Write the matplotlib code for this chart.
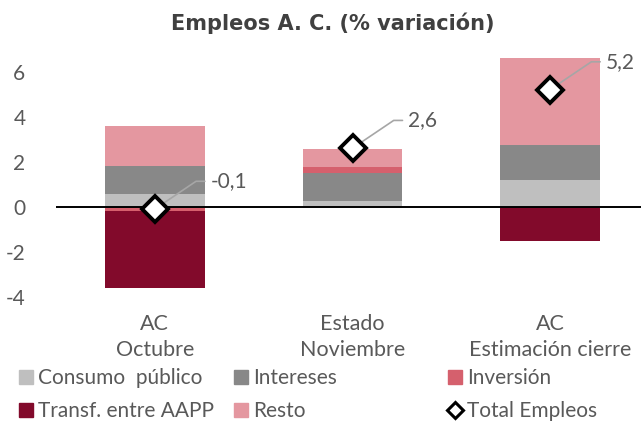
import matplotlib
matplotlib.use("Agg")
import matplotlib.pyplot as plt
from matplotlib.lines import Line2D
import numpy as np

categories = ["AC\nOctubre", "Estado\nNoviembre", "AC\nEstimación cierre"]
consumo = [0.55, 0.28, 1.19]
intereses = [1.27, 1.20, 1.54]
inversion = [-0.20, 0.30, 0.0]
transf = [-3.38, 0.0, -1.53]
resto = [1.75, 0.79, 3.87]
total = [-0.1, 2.6, 5.2]
total_labels = ["-0,1", "2,6", "5,2"]
yticks = [-4, -2, 0, 2, 4, 6]

series = [
    ("Consumo  público", consumo, "#BFBFBF"),
    ("Intereses", intereses, "#888888"),
    ("Inversión", inversion, "#D5606D"),
    ("Transf. entre AAPP", transf, "#820A2B"),
    ("Resto", resto, "#E497A0"),
]

plt.rcParams['font.family'] = ['Lato', 'DejaVu Sans']
txt = "#595959"

fig = plt.figure(figsize=(6.41, 4.26), dpi=100)
ax = fig.add_axes([56/641, 1-297/426, 593/641, (297-49)/426])

x = np.arange(len(categories))
pos_base = np.zeros(len(categories))
neg_base = np.zeros(len(categories))
for name, vals, col in series:
    v = np.array(vals, dtype=float)
    bottoms = np.where(v >= 0, pos_base, neg_base)
    ax.bar(x, v, width=0.505, bottom=bottoms, color=col, linewidth=0)
    pos_base = pos_base + np.where(v > 0, v, 0)
    neg_base = neg_base + np.where(v < 0, v, 0)

ax.axhline(0, color="black", lw=1.4, zorder=3)
ax.plot(x, total, linestyle="none", marker="D", ms=13, mfc="white",
        mec="black", mew=2.8, zorder=5)

for xi, t, lab in zip(x, total, total_labels):
    ax.annotate(lab, xy=(xi, t), xytext=(40, 20), textcoords="offset points",
                ha="left", va="center", fontsize=15, color=txt,
                arrowprops=dict(arrowstyle="-", color="#A6A6A6", lw=1.2,
                                shrinkA=2, shrinkB=0,
                                connectionstyle="angle,angleA=0,angleB=34,rad=0"),
                zorder=4)

ax.set_xlim(-0.5, 2.5)
ax.set_ylim(-4, 7)
ax.set_yticks(yticks)
ax.set_yticklabels([str(t) for t in yticks])
ax.set_xticks(x)
ax.set_xticklabels(categories, fontsize=15.5, color=txt, linespacing=1.4)
ax.tick_params(axis="x", length=0, pad=12)
ax.tick_params(axis="y", length=0, pad=22, labelsize=15, labelcolor=txt)
for s in ax.spines.values():
    s.set_visible(False)

fig.text(333/641, 1-23/426, "Empleos A. C. (% variación)", ha="center",
         va="center", fontsize=15, fontweight="bold", color="#404040",
         family=["DejaVu Sans"])

def h(col):
    return Line2D([], [], linestyle="none", marker="s", ms=10, mfc=col, mec=col)

leg_cols = [
    ([h("#BFBFBF"), h("#820A2B")], ["Consumo  público", "Transf. entre AAPP"], 19),
    ([h("#888888"), h("#E497A0")], ["Intereses", "Resto"], 234),
    ([h("#D5606D"), Line2D([], [], linestyle="none", marker="D", ms=8, mfc="white", mec="black", mew=2.2)],
     ["Inversión", "Total Empleos"], 448),
]
for hs, ls, xp in leg_cols:
    lg = fig.legend(hs, ls, loc="upper left", bbox_to_anchor=(xp/641, 1-368/426),
                    frameon=False, fontsize=15, handlelength=0.7,
                    handletextpad=0.2, labelspacing=0.62, borderpad=0,
                    borderaxespad=0)
    for t in lg.get_texts():
        t.set_color(txt)

fig.savefig("out.png", dpi=100)
